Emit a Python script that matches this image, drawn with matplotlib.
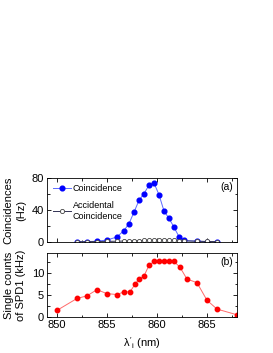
import matplotlib
matplotlib.use("Agg")
from matplotlib import pyplot as plt
from matplotlib.ticker import MultipleLocator

plt.rcParams['font.family'] = ['Liberation Sans', 'DejaVu Sans']
plt.rcParams['mathtext.fontset'] = 'custom'
plt.rcParams['mathtext.rm'] = 'Liberation Sans'
plt.rcParams['mathtext.it'] = 'Liberation Sans'

# panel (a): coincidences (Hz)
wl_a = [852, 853, 854, 855, 856, 856.7, 857.2, 857.7, 858.2, 858.7, 859.2, 859.7,
        860.2, 860.7, 861.2, 861.7, 862.2, 862.7, 864, 865, 866]
coinc = [0.3, 0.5, 1.0, 2.5, 6.3, 14.4, 22.9, 37.3, 52, 60.6, 71, 74,
         59.3, 39, 29.6, 18.7, 6.7, 2.0, 1.0, 0.5, 0.3]
accid = [0.3, 0.4, 0.6, 0.8, 1.0, 1.2, 1.4, 1.6, 1.8, 2.0, 2.2, 2.5,
         2.6, 2.5, 2.3, 2.0, 1.7, 1.4, 1.0, 0.7, 0.5]

# panel (b): single counts of SPD1 (kHz)
wl_b = [850, 852, 853, 854, 855, 856, 856.7, 857.3, 857.8, 858.2, 858.7, 859.2,
        859.7, 860.2, 860.7, 861.2, 861.7, 862.3, 863, 864, 865, 866, 868]
singles = [1.5, 4.2, 4.8, 6.2, 5.3, 5.1, 5.7, 5.7, 7.4, 8.6, 9.3, 11.7,
           12.6, 12.6, 12.7, 12.8, 12.6, 11.3, 8.6, 7.8, 3.8, 1.8, 0.5]

fig = plt.figure(figsize=(2.73, 3.53), dpi=100)
ax1 = fig.add_axes([0.172, 0.3144, 0.696, 0.181])
ax2 = fig.add_axes([0.172, 0.102, 0.696, 0.181])

fs = 7.5
ax1.plot(wl_a, coinc, "-", color="#5c6bff", lw=0.7, marker="o", ms=3.4,
         mfc="blue", mec="blue", label="Coincidence")
ax1.plot(wl_a, accid, "-", color="#333355", lw=0.7, marker="o", ms=3.0,
         mfc="white", mec="#444444", mew=0.6, label="Accidental\nCoincidence")
ax1.set_ylim(0, 80)
ax1.set_yticks([0, 40, 80])
ax1.yaxis.set_minor_locator(MultipleLocator(20))
ax1.set_ylabel("Coincidences\n(Hz)", fontsize=fs + 0.5, linespacing=1.3)
ax1.legend(loc="upper left", frameon=False, fontsize=6.5, handlelength=2.0,
           borderaxespad=0.25, labelspacing=0.9, handletextpad=0.2)
ax1.text(0.98, 0.86, "(a)", transform=ax1.transAxes, ha="right", va="center", fontsize=fs)
ax1.set_xticklabels([])

ax2.plot(wl_b, singles, "-", color="#ff6a6a", lw=0.7, marker="o", ms=3.2,
         mfc="red", mec="red")
ax2.set_ylim(0, 14.5)
ax2.set_yticks([0, 5, 10])
ax2.yaxis.set_minor_locator(MultipleLocator(2.5))
ax2.set_ylabel("Single counts\nof SPD1 (kHz)", fontsize=fs + 0.5, linespacing=1.3)
ax2.set_xlabel(r"$\lambda'_{\rm i}$ (nm)", fontsize=fs + 0.5)
ax2.text(0.98, 0.86, "(b)", transform=ax2.transAxes, ha="right", va="center", fontsize=fs)

for ax in (ax1, ax2):
    ax.set_xlim(849, 868)
    ax.xaxis.set_major_locator(MultipleLocator(5))
    ax.xaxis.set_minor_locator(MultipleLocator(2.5))
    ax.tick_params(which="both", direction="in", top=True, right=True,
                   labelsize=fs + 0.5, width=0.6, pad=2)
    ax.tick_params(which="major", length=3)
    ax.tick_params(which="minor", length=1.8)
    for s in ax.spines.values():
        s.set_linewidth(0.6)

fig.align_ylabels([ax1, ax2])
fig.savefig("out.png", dpi=100)
